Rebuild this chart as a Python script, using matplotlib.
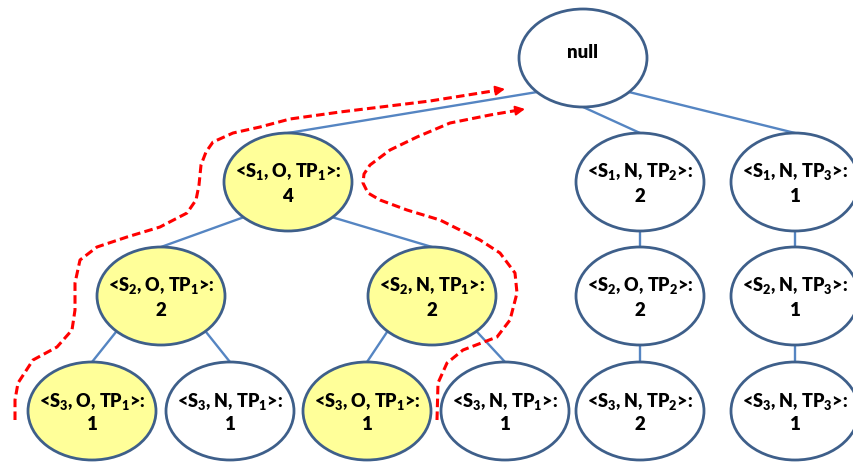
import numpy as np
import matplotlib.pyplot as plt
from matplotlib.patches import Ellipse

plt.rcParams['font.family'] = ['Lato', 'DejaVu Sans']
plt.rcParams['mathtext.default'] = 'regular'

# node labels, centres (pixel coords of the picture), counts and highlight
names = ['null',
         '<S$_1$, O, TP$_1$>:', '<S$_1$, N, TP$_2$>:', '<S$_1$, N, TP$_3$>:',
         '<S$_2$, O, TP$_1$>:', '<S$_2$, N, TP$_1$>:', '<S$_2$, O, TP$_2$>:', '<S$_2$, N, TP$_3$>:',
         '<S$_3$, O, TP$_1$>:', '<S$_3$, N, TP$_1$>:', '<S$_3$, O, TP$_1$>:', '<S$_3$, N, TP$_1$>:',
         '<S$_3$, N, TP$_2$>:', '<S$_3$, N, TP$_3$>:']
counts = [None, 4, 2, 1, 2, 2, 2, 1, 1, 1, 1, 1, 2, 1]
node_x = [583, 288, 640, 795, 161, 432, 640, 795, 92, 230, 367, 505, 640, 795]
node_y = [58, 182, 182, 182, 296, 296, 296, 296, 411, 411, 411, 411, 411, 411]
highlight = [0, 1, 0, 0, 1, 1, 0, 0, 1, 0, 1, 0, 0, 0]

# (parent, child, exit angle on parent ellipse in degrees, y pointing down)
edges = [(0, 1, 136), (0, 2, 90), (0, 3, 44),
         (1, 4, 134), (1, 5, 46),
         (2, 6, 90), (3, 7, 90),
         (4, 8, 134), (4, 9, 46),
         (5, 10, 134), (5, 11, 46),
         (6, 12, 90), (7, 13, 90)]

# traced red dashed paths (bottom -> arrow tip)
path1_x = [15, 15, 18, 33, 57, 72, 75, 75, 80, 97, 127, 160, 187, 196, 199, 201, 206, 213, 233, 260, 290, 340, 430, 505]
path1_y = [420, 400, 383, 360, 347, 330, 310, 283, 260, 247, 237, 227, 213, 200, 185, 165, 152, 142, 133, 127, 119, 112, 101, 89]
path2_x = [437, 438, 447, 463, 497, 510, 517, 515, 500, 480, 440, 407, 380, 368, 363, 364, 370, 390, 417, 450, 490, 525]
path2_y = [420, 383, 363, 350, 337, 320, 293, 273, 253, 240, 220, 210, 200, 193, 183, 174, 165, 150, 137, 123, 115, 109]

W, H = 128, 98
edge_col = '#3E5F8A'
line_col = '#5585C2'
fs = 13

fig = plt.figure(figsize=(8.54, 4.63), dpi=100)
ax = fig.add_axes([0, 0, 1, 1])
ax.set_xlim(0, 854)
ax.set_ylim(463, 0)
ax.axis('off')

for p, c, ang in edges:
    t = np.deg2rad(ang)
    x0 = node_x[p] + W / 2 * np.cos(t)
    y0 = node_y[p] + H / 2 * np.sin(t)
    ax.plot([x0, node_x[c]], [y0, node_y[c] - H / 2], color=line_col, lw=1.7, zorder=1)

for i in range(len(names)):
    fc = '#FFFF99' if highlight[i] else 'white'
    ax.add_patch(Ellipse((node_x[i], node_y[i]), W, H, facecolor=fc,
                         edgecolor=edge_col, lw=2.0, zorder=2))
    if counts[i] is None:
        ax.text(node_x[i], node_y[i] - 5, names[i], ha='center', va='center',
                fontsize=fs + 0.5, fontweight='heavy', zorder=3)
    else:
        ax.text(node_x[i], node_y[i] - 10, names[i], ha='center', va='center',
                fontsize=fs, fontweight='heavy', zorder=3)
        ax.text(node_x[i], node_y[i] + 14, str(counts[i]), ha='center', va='center',
                fontsize=fs + 0.5, fontweight='heavy', zorder=3)

for px, py in [(path1_x, path1_y), (path2_x, path2_y)]:
    ax.plot(px[:-1] + [px[-1] - 6], py[:-1] + [py[-1] + 1], color='red', lw=2.2,
            linestyle=(0, (2.8, 1.4)), zorder=4)
    ax.annotate('', xy=(px[-1], py[-1]), xytext=(px[-1] - 9, py[-1] + 1.5),
                arrowprops=dict(arrowstyle='-|>,head_length=0.55,head_width=0.28',
                                color='red', lw=1.5, shrinkA=0, shrinkB=0), zorder=4)

fig.savefig('out.png', dpi=100)
